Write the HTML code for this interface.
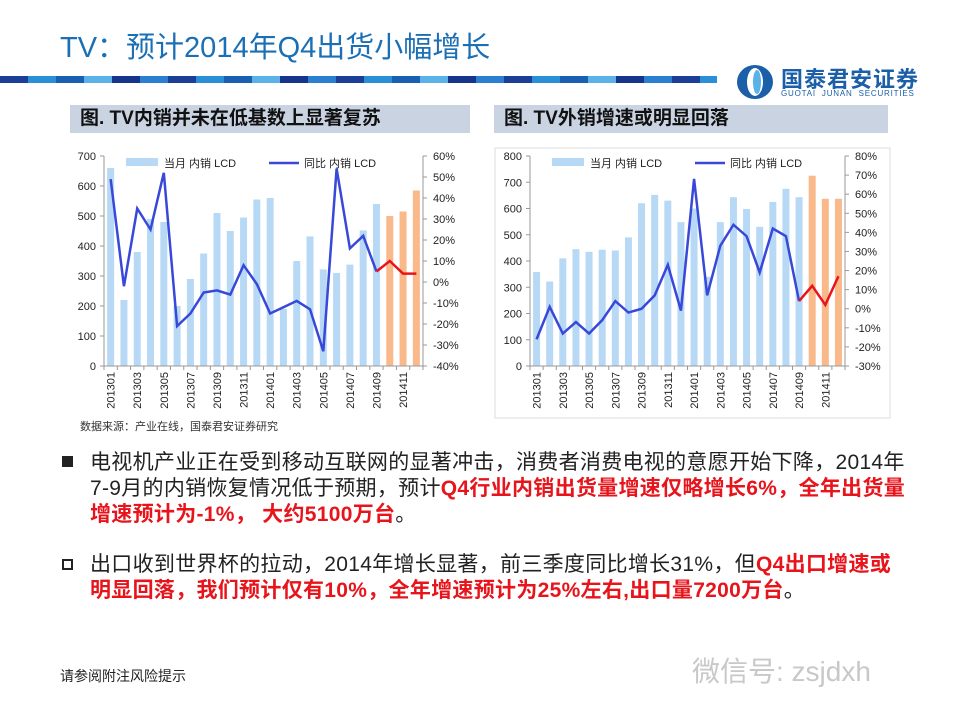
<!DOCTYPE html>
<html><head><meta charset="utf-8">
<style>
body{margin:0;width:960px;height:720px;background:#fff;position:relative;overflow:hidden;font-family:"Liberation Sans","Noto Sans CJK SC",sans-serif;}
.abs{position:absolute;}
#title{position:absolute;left:60px;top:24px;font-size:29px;color:#1a6fb5;white-space:nowrap;}
.stripe{position:absolute;top:76px;height:7px;}
.sub{position:absolute;top:105px;height:28px;background:#c9d3e2;font-weight:bold;font-size:19px;line-height:28px;color:#111;padding-left:10px;box-sizing:border-box;}
.para{position:absolute;left:90px;width:860px;font-size:21px;line-height:26px;color:#222;white-space:nowrap;letter-spacing:0.3px;}
.red{color:#e8141b;font-weight:bold;}
.bul{position:absolute;left:62px;width:11px;height:11px;box-sizing:border-box;}
svg text{font-family:"Liberation Sans","Noto Sans CJK SC",sans-serif;}
</style></head><body>
<div id="title">TV：预计2014年Q4出货小幅增长</div>
<div id="stripes"></div>
<div class="abs" style="left:735px;top:62px;width:220px;height:40px;">
<svg width="40" height="36" style="position:absolute;left:0;top:2px"><ellipse cx="20" cy="18" rx="18" ry="17" fill="#1a5fa8"/><ellipse cx="20" cy="18" rx="8" ry="14" fill="#fff"/><ellipse cx="22" cy="18" rx="4" ry="12" fill="#5bb2e8"/></svg>
<div class="abs" style="left:46px;top:0;font-size:22px;font-weight:bold;color:#1a5fa8;letter-spacing:1px;white-space:nowrap">国泰君安证券</div>
<div class="abs" style="left:46px;top:27px;font-size:8px;color:#1a5fa8;letter-spacing:0.8px;white-space:nowrap">GUOTAI &nbsp;JUNAN &nbsp;SECURITIES</div>
</div>
<div class="sub" style="left:70px;width:400px">图. TV内销并未在低基数上显著复苏</div>
<div class="sub" style="left:494px;width:394px">图. TV外销增速或明显回落</div>
<svg id="c1" class="abs" style="left:60px;top:140px" width="420" height="300"></svg>
<svg id="c2" class="abs" style="left:490px;top:140px" width="420" height="300"></svg>
<div class="abs" style="left:80px;top:418px;font-size:11px;color:#333">数据来源：产业在线，国泰君安证券研究</div>
<div class="bul" style="top:456px;background:#222"></div>
<div class="para" style="top:450px">电视机产业正在受到移动互联网的显著冲击，消费者消费电视的意愿开始下降，2014年<br>7-9月的内销恢复情况低于预期，预计<span class="red">Q4行业内销出货量增速仅略增长6%，全年出货量<br>增速预计为-1%， 大约5100万台</span>。</div>
<div class="bul" style="top:559px;border:2px solid #222"></div>
<div class="para" style="top:552px">出口收到世界杯的拉动，2014年增长显著，前三季度同比增长31%，但<span class="red">Q4出口增速或<br>明显回落，我们预计仅有10%，全年增速预计为25%左右,出口量7200万台</span>。</div>
<div class="abs" style="left:60px;top:666px;font-size:14px;color:#222">请参阅附注风险提示</div>
<div class="abs" style="left:692px;top:650px;font-size:28px;color:#c8c8c8;white-space:nowrap">微信号: zsjdxh</div>
<script>
const cats=["201301","201302","201303","201304","201305","201306","201307","201308","201309","201310","201311","201312","201401","201402","201403","201404","201405","201406","201407","201408","201409","201410","201411","201412"];
const bars1=[660,220,380,490,480,200,290,375,510,450,495,555,560,190,350,432,322,310,338,452,540,500,515,585];
const line1=[49,-2,35,25,52,-21,-15,-5,-4,-6,8,-1,-15,-12,-9,-13,-33,54,16,22,5];
const fore1=[5,10,4,4];
const bars2=[358,322,410,445,435,443,440,490,620,652,630,548,600,340,548,643,598,530,625,675,643,725,637,637];
const line2=[-16,1,-13,-7,-13,-6,4,-2,0,7,23,-1,68,7,33,44,38,19,42,38,4];
const fore2=[4,12,2,17];
const leftTicks1=[0,100,200,300,400,500,600,700];
const rightTicks1=[-40,-30,-20,-10,0,10,20,30,40,50,60];
const leftTicks2=[0,100,200,300,400,500,600,700,800];
const rightTicks2=[-30,-20,-10,0,10,20,30,40,50,60,70,80];
const NS='http://www.w3.org/2000/svg';
function mk(svg,tag,attrs,txt){const e=document.createElementNS(NS,tag);for(const k in attrs)e.setAttribute(k,attrs[k]);if(txt!==undefined)e.textContent=txt;svg.appendChild(e);return e;}
(function(){const cols=["#1a3f95","#2b8fd8","#1a5fb0","#5bb2e8","#14358a","#2a7fd0"];const host=document.getElementById('stripes');let x=0,i=0;while(x<717){const d=document.createElement('div');d.className='stripe';d.style.left=x+'px';d.style.width=Math.min(28,717-x)+'px';d.style.background=cols[i%cols.length];host.appendChild(d);x+=28;i++;}})();
function chart(id,ox,oy,x0,x1,y0,y1,lmax,rmin,rmax,lt,rt,bars,line,fore){
 const svg=document.getElementById(id);
 const n=cats.length,step=(x1-x0)/n;
 const X0=x0-ox,X1=x1-ox,Y0=y0-oy,Y1=y1-oy;
 const xc=i=>X0+step*(i+0.5);
 const yl=v=>Y0+(Y1-Y0)*(v/lmax);
 const yr=v=>Y0+(Y1-Y0)*((v-rmin)/(rmax-rmin));
 bars.forEach((v,i)=>{const r=mk(svg,'rect',{x:xc(i)-3.5,y:yl(v),width:7,height:Y0-yl(v),fill:i>=21?'#f9b98a':'#b7d9f5'});
  
  });
 mk(svg,'line',{x1:X0,y1:Y1,x2:X0,y2:Y0,stroke:'#999'});
 mk(svg,'line',{x1:X1,y1:Y1,x2:X1,y2:Y0,stroke:'#999'});
 mk(svg,'line',{x1:X0,y1:Y0,x2:X1,y2:Y0,stroke:'#999'});
 lt.forEach(v=>{mk(svg,'line',{x1:X0-4,x2:X0,y1:yl(v),y2:yl(v),stroke:'#999'});const t=mk(svg,'text',{x:X0-8,y:yl(v)+4,'font-size':11,'text-anchor':'end',fill:'#222'},v);});
 rt.forEach(v=>{mk(svg,'line',{x1:X1,x2:X1+4,y1:yr(v),y2:yr(v),stroke:'#999'});const t=mk(svg,'text',{x:X1+10,y:yr(v)+4,'font-size':11,fill:'#222'},v+'%');});
 for(let i=0;i<=n;i++)mk(svg,'line',{x1:X0+step*i,x2:X0+step*i,y1:Y0,y2:Y0+4,stroke:'#999'});
 cats.forEach((c,i)=>{if(i%2==0){const t=mk(svg,'text',{transform:`translate(${xc(i)+4},${Y0+6}) rotate(-90)`,'font-size':11,'text-anchor':'end',fill:'#222'},c);}});
 const p=mk(svg,'polyline',{points:line.map((v,i)=>xc(i)+','+yr(v)).join(' '),fill:'none',stroke:'#3848d8','stroke-width':2.5});
 
 const off=line.length-1;
 const q=mk(svg,'polyline',{points:fore.map((v,i)=>xc(off+i)+','+yr(v)).join(' '),fill:'none',stroke:'#e8141b','stroke-width':2.5});
 
 const lg=mk(svg,'g',{});
 mk(lg,'rect',{x:X0+22,y:Y1+2,width:32,height:8,fill:'#b7d9f5'});
 mk(lg,'text',{x:X0+60,y:Y1+11,'font-size':11,fill:'#222'},'当月 内销 LCD');
 mk(lg,'line',{x1:X0+165,x2:X0+195,y1:Y1+7,y2:Y1+7,stroke:'#3848d8','stroke-width':2.5});
 mk(lg,'text',{x:X0+200,y:Y1+11,'font-size':11,fill:'#222'},'同比 内销 LCD');
}
chart('c1',60,140,104,423,366,156,700,-40,60,leftTicks1,rightTicks1,bars1,line1,fore1);
chart('c2',490,140,530,845,366,156,800,-30,80,leftTicks2,rightTicks2,bars2,line2,fore2);
(function(){const s=document.getElementById('c2');mk(s,'rect',{x:5,y:8,width:395,height:270,fill:'none',stroke:'#ddd'});})();
</script>
</body></html>
